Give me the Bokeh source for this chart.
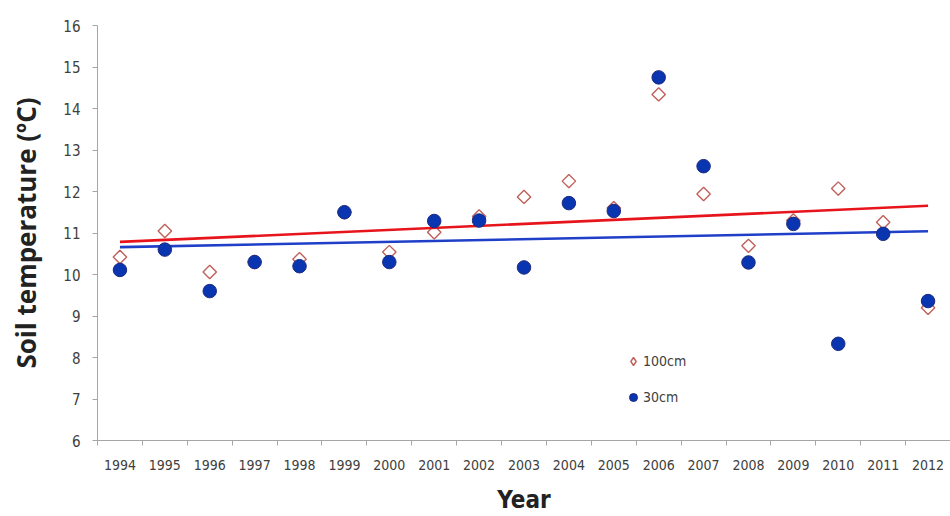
import numpy as np
from bokeh.plotting import figure
from bokeh.models import Range1d, FixedTicker, Legend, LegendItem
from bokeh.embed import file_html
from bokeh.resources import INLINE

years = ["1994", "1995", "1996", "1997", "1998", "1999", "2000", "2001", "2002", "2003",
         "2004", "2005", "2006", "2007", "2008", "2009", "2010", "2011", "2012"]
temp_100cm = [10.42, 11.05, 10.06, 10.30, 10.37, 11.50, 10.54, 11.02, 11.40, 11.87,
              12.25, 11.60, 14.34, 11.94, 10.69, 11.30, 12.07, 11.26, 9.20]
temp_30cm = [10.11, 10.60, 9.60, 10.30, 10.20, 11.50, 10.30, 11.29, 11.30, 10.17,
             11.72, 11.53, 14.75, 12.61, 10.29, 11.22, 8.33, 10.98, 9.36]
y_ticks = [6, 7, 8, 9, 10, 11, 12, 13, 14, 15, 16]

NARROW = "'DejaVu Sans Condensed', 'Liberation Sans', sans-serif"
x = list(range(len(years)))
yr = np.array([int(y) for y in years], dtype=float)

p = figure(width=950, height=516, output_backend="svg", toolbar_location=None,
           x_range=Range1d(-0.5, len(years) - 0.5), y_range=Range1d(y_ticks[0], y_ticks[-1]),
           min_border_left=97, min_border_right=0, min_border_top=25, min_border_bottom=75)
p.outline_line_color = None
p.grid.visible = False
p.background_fill_color = "white"
p.border_fill_color = "white"

# x axis
p.xaxis.ticker = FixedTicker(ticks=x, minor_ticks=[i - 0.5 for i in range(len(years) + 1)])
p.xaxis.major_label_overrides = {i: y for i, y in enumerate(years)}
p.xaxis.major_tick_line_color = None
p.xaxis.major_tick_in = 0
p.xaxis.major_tick_out = 0
p.xaxis.minor_tick_in = 0
p.xaxis.minor_tick_out = 5
p.xaxis.minor_tick_line_color = "#a6a6a6"
p.xaxis.axis_line_color = "#a6a6a6"
p.xaxis.major_label_standoff = 14
p.xaxis.major_label_text_font = NARROW
p.xaxis.major_label_text_font_size = "14px"
p.xaxis.major_label_text_color = "#404040"
p.xaxis.axis_label = "Year"
p.xaxis.axis_label_standoff = 13
p.xaxis.axis_label_text_font = NARROW
p.xaxis.axis_label_text_font_style = "bold"
p.xaxis.axis_label_text_font_size = "24px"
p.xaxis.axis_label_text_color = "#222222"

# y axis
p.yaxis.ticker = FixedTicker(ticks=y_ticks)
p.yaxis.major_tick_in = 0
p.yaxis.major_tick_out = 5
p.yaxis.minor_tick_line_color = None
p.yaxis.major_tick_line_color = "#a6a6a6"
p.yaxis.axis_line_color = "#a6a6a6"
p.yaxis.major_label_standoff = 12
p.yaxis.major_label_text_font = NARROW
p.yaxis.major_label_text_font_size = "15px"
p.yaxis.major_label_text_color = "#404040"
p.yaxis.axis_label = "Soil temperature (ºC)"
p.yaxis.axis_label_standoff = 16
p.yaxis.axis_label_text_font = "Open Sans"
p.yaxis.axis_label_text_font_style = "bold"
p.yaxis.axis_label_text_font_size = "26px"
p.yaxis.axis_label_text_color = "#222222"

# data
diamond_style = dict(fill_color="white", line_color="#c0605a", line_width=1.4)
p.scatter(x, temp_100cm, marker="square", size=9.5, angle=np.pi / 4, **diamond_style)
r100_key = p.scatter(np.array([np.nan]), np.array([np.nan]), marker="diamond", **diamond_style)

for vals, col in ((temp_100cm, "#e8141c"), (temp_30cm, "#1f3fc8")):
    k, b = np.polyfit(yr, np.array(vals), 1)
    p.line([x[0], x[-1]], [k * yr[0] + b, k * yr[-1] + b], line_color=col, line_width=2.6)

r30 = p.scatter(x, temp_30cm, marker="circle", size=13.5,
                fill_color="#0a35b0", line_color="#1b2a80", line_width=1)

legend = Legend(items=[LegendItem(label="100cm", renderers=[r100_key]),
                       LegendItem(label="30cm", renderers=[r30])],
                location=(526, 33), orientation="vertical",
                glyph_width=20, glyph_height=20, label_height=20, spacing=16,
                label_standoff=0, padding=0, margin=0,
                border_line_color=None, background_fill_alpha=0,
                label_text_font=NARROW, label_text_font_size="14px",
                label_text_color="#404040")
p.add_layout(legend, "center")

open("out.html", "w").write(file_html(p, INLINE))
